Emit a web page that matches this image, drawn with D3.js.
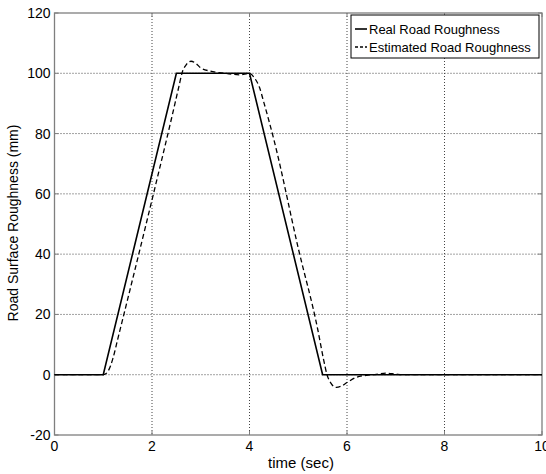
<!DOCTYPE html>
<html lang="en">
	<head>
		<meta charset="utf-8">
		<title>Road roughness</title>
		<script type="text/javascript" src="https://cdn.jsdelivr.net/npm/d3@7"></script>
		<style type="text/css">
			body { margin: 0; background: #fff; }
			text { font-family: "Liberation Sans", Arial, sans-serif; }
		</style>
	</head>
	<body>
		<script type="text/javascript">
			var w = 546;
			var h = 474;
			var xTicks = [0, 2, 4, 6, 8, 10];
			var yTicks = [-20, 0, 20, 40, 60, 80, 100, 120];
			var seriesNames = ["Real Road Roughness", "Estimated Road Roughness"];
			var realT = [0, 1, 2.5, 4, 5.5, 10];
			var realV = [0, 0, 100, 100, 0, 0];
			var estT = [0, 1.0, 1.05, 1.1, 1.15, 1.2, 1.3, 1.5, 2.0, 2.4, 2.55, 2.62, 2.7, 2.8, 2.9, 3.0, 3.2, 3.5, 3.8, 4.0, 4.1, 4.2, 4.3, 4.5, 5.0, 5.4, 5.52, 5.59, 5.67, 5.78, 5.88, 6.0, 6.2, 6.4, 6.6, 6.8, 7.0, 7.2, 10];
			var estV = [0, 0, 0.3, 1.2, 3, 5.5, 12, 25, 58, 85, 95.5, 100.3, 102.8, 104, 103.3, 101.8, 100.7, 100, 99.5, 100, 98.5, 95.5, 90, 78, 42, 15, 5, 0, -2.8, -4.2, -3.8, -2.6, -0.8, -0.2, 0.1, 0.5, 0.2, 0, 0];

			var pLeft = 54.5, pRight = 542, pTop = 13, pBottom = 435;

			var xScale = d3.scaleLinear().domain([0, 10]).range([pLeft, pRight]);
			var yScale = d3.scaleLinear().domain([-20, 120]).range([pBottom, pTop]);

			var svg = d3.select("body").append("svg")
				.attr("width", w)
				.attr("height", h);

			//grid
			svg.selectAll("line.gx")
				.data(xTicks.slice(1, -1))
				.enter().append("line")
				.attr("x1", function(d) { return xScale(d); })
				.attr("x2", function(d) { return xScale(d); })
				.attr("y1", pTop).attr("y2", pBottom)
				.attr("stroke", "#444").attr("stroke-width", 1)
				.attr("stroke-dasharray", "1,2");
			svg.selectAll("line.gy")
				.data(yTicks.slice(1, -1))
				.enter().append("line")
				.attr("y1", function(d) { return yScale(d); })
				.attr("y2", function(d) { return yScale(d); })
				.attr("x1", pLeft).attr("x2", pRight)
				.attr("stroke", "#444").attr("stroke-width", 1)
				.attr("stroke-dasharray", "1,2");

			//inward ticks on all four sides
			var tk = 4;
			xTicks.forEach(function(d) {
				[[pBottom, -tk], [pTop, tk]].forEach(function(s) {
					svg.append("line")
						.attr("x1", xScale(d)).attr("x2", xScale(d))
						.attr("y1", s[0]).attr("y2", s[0] + s[1])
						.attr("stroke", "#7f7f7f").attr("stroke-width", 1);
				});
			});
			yTicks.forEach(function(d) {
				[[pLeft, tk], [pRight, -tk]].forEach(function(s) {
					svg.append("line")
						.attr("y1", yScale(d)).attr("y2", yScale(d))
						.attr("x1", s[0]).attr("x2", s[0] + s[1])
						.attr("stroke", "#7f7f7f").attr("stroke-width", 1);
				});
			});

			//axes box
			svg.append("rect")
				.attr("x", pLeft).attr("y", pTop)
				.attr("width", pRight - pLeft).attr("height", pBottom - pTop)
				.attr("fill", "none").attr("stroke", "#7f7f7f").attr("stroke-width", 1.3);

			//tick labels
			svg.selectAll("text.xt")
				.data(xTicks)
				.enter().append("text")
				.attr("x", function(d) { return xScale(d); })
				.attr("y", pBottom + 16)
				.attr("text-anchor", "middle")
				.attr("font-size", "14px")
				.text(function(d) { return d; });
			svg.selectAll("text.yt")
				.data(yTicks)
				.enter().append("text")
				.attr("x", pLeft - 4)
				.attr("y", function(d) { return yScale(d) + 5; })
				.attr("text-anchor", "end")
				.attr("font-size", "14px")
				.text(function(d) { return d; });

			svg.append("text")
				.attr("x", 301).attr("y", 468)
				.attr("text-anchor", "middle")
				.attr("font-size", "15px")
				.text("time (sec)");
			svg.append("text")
				.attr("transform", "translate(18,223) rotate(-90)")
				.attr("text-anchor", "middle")
				.attr("font-size", "14px")
				.text("Road Surface Roughness (mm)");

			//lines
			var line = d3.line()
				.x(function(d) { return xScale(d[0]); })
				.y(function(d) { return yScale(d[1]); });
			svg.append("path")
				.datum(d3.zip(realT, realV))
				.attr("d", line)
				.attr("fill", "none").attr("stroke", "#000").attr("stroke-width", 1.6);
			svg.append("path")
				.datum(d3.zip(estT, estV))
				.attr("d", d3.line().curve(d3.curveMonotoneX)
					.x(function(d) { return xScale(d[0]); })
					.y(function(d) { return yScale(d[1]); }))
				.attr("fill", "none").attr("stroke", "#000").attr("stroke-width", 1.3)
				.attr("stroke-dasharray", "5,3");

			//legend
			var lg = svg.append("g");
			lg.append("rect")
				.attr("x", 351).attr("y", 15)
				.attr("width", 188).attr("height", 43)
				.attr("fill", "#fff").attr("stroke", "#000").attr("stroke-width", 1);
			var dashes = [null, "3,2"];
			seriesNames.forEach(function(name, i) {
				var yy = 29 + i * 18;
				lg.append("line")
					.attr("x1", 355).attr("x2", 367)
					.attr("y1", yy).attr("y2", yy)
					.attr("stroke", "#000").attr("stroke-width", i == 0 ? 1.6 : 1.3)
					.attr("stroke-dasharray", dashes[i]);
				lg.append("text")
					.attr("x", 369).attr("y", yy + 5)
					.attr("font-size", "13px")
					.text(name);
			});
		</script>
	</body>
</html>
